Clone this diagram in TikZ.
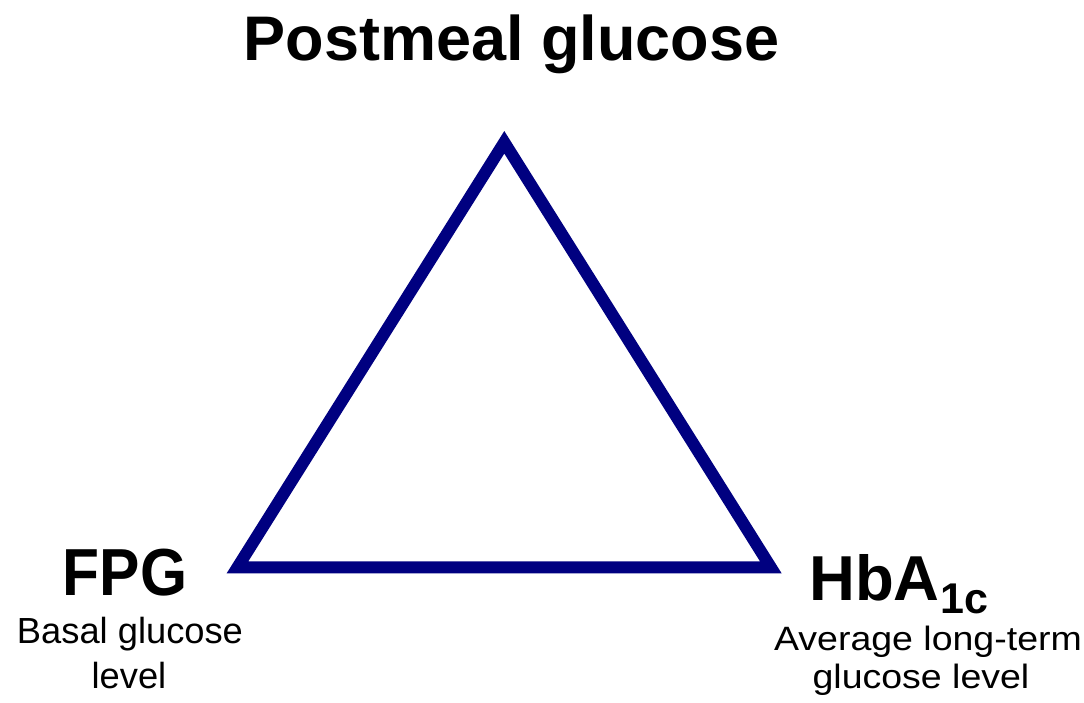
\documentclass[tikz,border=0pt]{standalone}
\usepackage{fontspec}
\setmainfont{Liberation Sans}
\definecolor{navytri}{RGB}{0,0,128}
\begin{document}
\begin{tikzpicture}[x=1pt,y=-1pt,
  big/.style={font=\fontsize{62}{62}\selectfont\bfseries, inner sep=0pt, anchor=base},
  small/.style={font=\fontsize{36.3}{44}\selectfont, inner sep=0pt, anchor=base},
  tri/.style={draw=navytri, line width=12pt, line join=miter}]
\useasboundingbox (0,0) rectangle (1084,703);
\coordinate (A) at (504.3,142.3);
\coordinate (B) at (237.5,567.3);
\coordinate (C) at (770.8,567.3);
\draw[tri] (A) -- (B) -- (C) -- cycle;
\node[big, font=\fontsize{63}{63}\selectfont\bfseries] (post) at (511.5,61) {Postmeal glucose};
\node[big, font=\fontsize{60.5}{60.5}\selectfont\bfseries] (fpg) at (125,595) {\scalebox{1}[1.1]{FPG}};
\node[small] (basal) at (130,643) {Basal glucose};
\node[small] (basal2) at (129,688) {level};
\node[big, font=\fontsize{63.5}{63.5}\selectfont\bfseries, anchor=base west] (hba) at (809,600) {HbA};
\node[font=\fontsize{43}{43}\selectfont\bfseries, inner sep=0pt, anchor=base west] (sub) at (hba.base east) [yshift=-13pt] {1c};
\node[small, font=\fontsize{37.5}{44}\selectfont] (avg) at (928,650) {\scalebox{1}[0.9]{Average long-term}};
\node[small, font=\fontsize{37.5}{44}\selectfont] (avg2) at (921,688) {\scalebox{1}[0.9]{glucose level}};
\end{tikzpicture}
\end{document}
